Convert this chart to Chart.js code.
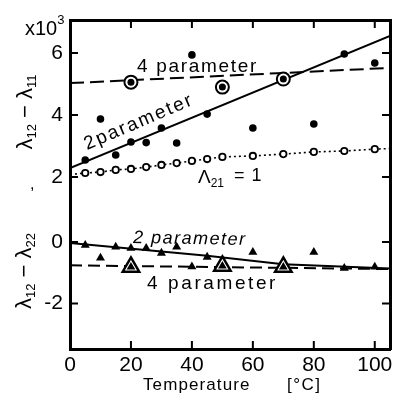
<!DOCTYPE html>
<html>
<head>
<meta charset="utf-8">
<script src="https://cdn.jsdelivr.net/npm/chart.js@4.4.1/dist/chart.umd.min.js"></script>
<style>
  html, body { margin: 0; padding: 0; background: #fff; }
</style>
</head>
<body>
<canvas id="grafico" width="403" height="401"></canvas>
<script>
// temperatura en °C, valores de lambda x10^3
const xTicks = [0, 20, 40, 60, 80, 100];
const upperTicks = [2, 4, 6];
const lowerTicks = [-2, 0];

// panel superior: lambda12 - lambda11
const dotTemps = [5, 10, 15, 20, 25, 30, 35, 40, 45, 60, 80, 90, 100];
const dotVals = [2.55, 3.87, 2.71, 3.13, 3.11, 3.58, 3.1, 5.94, 4.03, 3.58, 3.71, 5.97, 5.68];
const ringTemps = [20, 50, 70];
const ringVals = [5.06, 4.9, 5.16];
const openTemps = [5, 10, 15, 20, 25, 30, 35, 40, 45, 50, 60, 70, 80, 90, 100];
const openVals = [2.13, 2.16, 2.23, 2.26, 2.32, 2.39, 2.45, 2.52, 2.58, 2.65, 2.68, 2.74, 2.81, 2.84, 2.9];
const openEndTemps = [0, 105];
const openEndVals = [2.08, 2.92];
const fit2pUpTemps = [0, 105];
const fit2pUpVals = [2.29, 6.55];
const fit4pUpTemps = [0, 105];
const fit4pUpVals = [5.03, 5.52];

// panel inferior: lambda12 - lambda22
const triTemps = [5, 10, 15, 20, 25, 30, 35, 40, 45, 60, 80, 90, 100];
const triVals = [-0.1, -0.52, -0.16, -0.2, -0.2, -0.36, -0.16, -0.8, -0.49, -0.33, -0.33, -0.85, -0.81];
const bigTriTemps = [20, 50, 70];
const bigTriVals = [-0.81, -0.78, -0.81];
const fit2pLowTemps = [0, 45, 70, 105];
const fit2pLowVals = [-0.03, -0.45, -0.72, -0.86];
const fit4pLowTemps = [0, 105];
const fit4pLowVals = [-0.76, -0.88];

const FONT = 'Liberation Sans';
const TICK = 8;
const pts = (xs, ys) => xs.map((x, i) => ({ x: x, y: ys[i] }));

// linea punteada que pasa por los circulos abiertos
const dottedLine = pts(
  [openEndTemps[0], ...openTemps, openEndTemps[1]],
  [openEndVals[0], ...openVals, openEndVals[1]]
);

function marcas(vals) {
  return s => { s.ticks = vals.map(v => ({ value: v })); };
}

const sinGrid = { display: false, drawTicks: false };
const borde = { display: true, color: '#000', width: 3 };

function texto(ctx, str, x, y, size, opts) {
  opts = opts || {};
  ctx.font = (opts.italic ? 'italic ' : '') + size + 'px "' + FONT + '"';
  ctx.letterSpacing = (opts.ls || 0) + 'px';
  ctx.textAlign = opts.align || 'left';
  ctx.textBaseline = 'alphabetic';
  ctx.fillText(str, x, y);
  const w = ctx.measureText(str).width;
  ctx.letterSpacing = '0px';
  return w;
}

// λ con subindices, girado
function lambdaLabel(ctx, a, b, cx, cy) {
  ctx.save();
  ctx.translate(cx, cy);
  ctx.rotate(-Math.PI / 2);
  ctx.font = '22px "' + FONT + '"';
  const wl = ctx.measureText('λ').width;
  const wm = ctx.measureText(' − ').width;
  ctx.font = '13px "' + FONT + '"';
  const wa = ctx.measureText(a).width;
  const wb = ctx.measureText(b).width;
  let x = -(wl * 2 + wm + wa + wb) / 2;
  x += texto(ctx, 'λ', x, 0, 22);
  x += texto(ctx, a, x, 4, 13);
  x += texto(ctx, ' − ', x, 0, 22);
  x += texto(ctx, 'λ', x, 0, 22);
  texto(ctx, b, x, 4, 13);
  ctx.restore();
}

// marcas de escala hacia adentro, en todos los lados
const marcasDentro = {
  id: 'marcasDentro',
  afterDatasetsDraw(chart) {
    const ctx = chart.ctx;
    const a = chart.chartArea;
    ctx.save();
    ctx.strokeStyle = '#000';
    ctx.lineWidth = 2;
    ctx.beginPath();
    for (const id of ['x', 'xTop']) {
      const s = chart.scales[id];
      s.ticks.forEach(t => {
        const px = s.getPixelForValue(t.value);
        if (id === 'x') { ctx.moveTo(px, a.bottom); ctx.lineTo(px, a.bottom - TICK); }
        else { ctx.moveTo(px, a.top); ctx.lineTo(px, a.top + TICK); }
      });
    }
    for (const id of ['y', 'y2', 'yR', 'yR2']) {
      const s = chart.scales[id];
      const izq = s.position === 'left';
      s.ticks.forEach(t => {
        const py = s.getPixelForValue(t.value);
        if (izq) { ctx.moveTo(a.left, py); ctx.lineTo(a.left + TICK, py); }
        else { ctx.moveTo(a.right, py); ctx.lineTo(a.right - TICK, py); }
      });
    }
    ctx.stroke();
    ctx.restore();
  }
};

const textos = {
  id: 'textos',
  afterDraw(chart) {
    const ctx = chart.ctx;
    ctx.save();
    ctx.fillStyle = '#000';
    // x10^3
    let w = texto(ctx, 'x10', 25, 35, 20);
    texto(ctx, '3', 25 + w, 24, 13);
    lambdaLabel(ctx, '12', '11', 32, 112);
    lambdaLabel(ctx, '12', '22', 31, 271);
    texto(ctx, ',', 30, 189, 16);
    // panel superior
    texto(ctx, '4 parameter', 137, 72, 19, { ls: 1.7 });
    ctx.save();
    ctx.translate(141, 127);
    ctx.rotate(-23 * Math.PI / 180);
    texto(ctx, '2parameter', 0, 0, 19, { ls: 2, align: 'center' });
    ctx.restore();
    w = texto(ctx, 'Λ', 198, 183, 19);
    texto(ctx, '21', 198 + w, 187, 12);
    texto(ctx, '= 1', 234, 181, 18, { ls: 1 });
    // panel inferior
    ctx.save();
    ctx.translate(133, 243);
    ctx.rotate(1 * Math.PI / 180);
    texto(ctx, '2 parameter', 0, 0, 18, { ls: 1.5, italic: true });
    ctx.restore();
    texto(ctx, '4 parameter', 147, 289, 19, { ls: 2.6 });
    // eje x
    texto(ctx, 'Temperature', 143, 390, 17, { ls: 1.1 });
    texto(ctx, '[°C]', 287, 390, 17, { ls: 1.5 });
    ctx.restore();
  }
};

const ctx = document.getElementById('grafico').getContext('2d');
new Chart(ctx, {
  type: 'scatter',
  data: {
    datasets: [
      { data: pts(ringTemps, ringVals), yAxisID: 'y', order: 0, pointStyle: 'circle', pointRadius: 3.5, pointBackgroundColor: '#000', pointBorderWidth: 0, showLine: false },
      { data: pts(ringTemps, ringVals), yAxisID: 'y', order: 1, pointStyle: 'circle', pointRadius: 6.5, pointBackgroundColor: '#fff', pointBorderColor: '#000', pointBorderWidth: 2, showLine: false },
      { data: pts(dotTemps, dotVals), yAxisID: 'y', order: 2, pointStyle: 'circle', pointRadius: 3.8, pointBackgroundColor: '#000', pointBorderWidth: 0, showLine: false },
      { data: dottedLine, yAxisID: 'y', order: 3, showLine: true, borderColor: '#000', borderWidth: 1.6, borderDash: [2, 3],
        pointRadius: dottedLine.map((p, i) => (i === 0 || i === dottedLine.length - 1) ? 0 : 3.2),
        pointBackgroundColor: '#fff', pointBorderColor: '#000', pointBorderWidth: 1.8 },
      { data: pts(bigTriTemps, bigTriVals), yAxisID: 'y2', order: 0, pointStyle: 'triangle', pointRadius: 5, pointBackgroundColor: '#000', pointBorderWidth: 0, showLine: false },
      { data: pts(bigTriTemps, bigTriVals), yAxisID: 'y2', order: 1, pointStyle: 'triangle', pointRadius: 9.5, pointBackgroundColor: '#fff', pointBorderColor: '#000', pointBorderWidth: 2.5, showLine: false },
      { data: pts(triTemps, triVals), yAxisID: 'y2', order: 2, pointStyle: 'triangle', pointRadius: 5.2, pointBackgroundColor: '#000', pointBorderWidth: 0, showLine: false },
      { data: pts(fit2pUpTemps, fit2pUpVals), yAxisID: 'y', order: 5, showLine: true, borderColor: '#000', borderWidth: 2, pointRadius: 0 },
      { data: pts(fit4pUpTemps, fit4pUpVals), yAxisID: 'y', order: 5, showLine: true, borderColor: '#000', borderWidth: 2, borderDash: [14, 6], pointRadius: 0 },
      { data: pts(fit2pLowTemps, fit2pLowVals), yAxisID: 'y2', order: 5, showLine: true, borderColor: '#000', borderWidth: 2, pointRadius: 0 },
      { data: pts(fit4pLowTemps, fit4pLowVals), yAxisID: 'y2', order: 5, showLine: true, borderColor: '#000', borderWidth: 2, borderDash: [12, 6], pointRadius: 0 }
    ]
  },
  options: {
    responsive: false,
    animation: false,
    devicePixelRatio: 1,
    layout: { padding: 0 },
    plugins: { legend: { display: false }, tooltip: { enabled: false } },
    scales: {
      x: {
        type: 'linear', position: 'bottom', min: 0, max: 105,
        afterBuildTicks: marcas(xTicks),
        afterFit: s => { s.height = 52; },
        grid: sinGrid, border: borde,
        ticks: { color: '#000', font: { family: FONT, size: 21 }, padding: 4, maxRotation: 0, autoSkip: false }
      },
      xTop: {
        type: 'linear', position: 'top', min: 0, max: 105,
        afterBuildTicks: marcas(xTicks),
        afterFit: s => { s.height = 20; },
        grid: sinGrid, border: borde,
        ticks: { display: false }
      },
      y: {
        type: 'linear', position: 'left', stack: 'izq', stackWeight: 184, weight: 2,
        min: 1.13, max: 7.065,
        afterBuildTicks: marcas(upperTicks),
        afterFit: s => { s.width = 70; },
        grid: sinGrid, border: borde,
        ticks: { color: '#000', font: { family: FONT, size: 21 }, padding: 7 }
      },
      y2: {
        type: 'linear', position: 'left', stack: 'izq', stackWeight: 145, weight: 1,
        min: -3.48, max: 1.236,
        afterBuildTicks: marcas(lowerTicks),
        afterFit: s => { s.width = 70; },
        grid: sinGrid, border: borde,
        ticks: { color: '#000', font: { family: FONT, size: 21 }, padding: 7 }
      },
      yR: {
        type: 'linear', position: 'right', stack: 'der', stackWeight: 184, weight: 1,
        min: 1.13, max: 7.065,
        afterBuildTicks: marcas(upperTicks),
        afterFit: s => { s.width = 13; },
        grid: sinGrid, border: borde,
        ticks: { display: false }
      },
      yR2: {
        type: 'linear', position: 'right', stack: 'der', stackWeight: 145, weight: 2,
        min: -3.48, max: 1.236,
        afterBuildTicks: marcas(lowerTicks),
        afterFit: s => { s.width = 13; },
        grid: sinGrid, border: borde,
        ticks: { display: false }
      }
    }
  },
  plugins: [marcasDentro, textos]
});
</script>
</body>
</html>
